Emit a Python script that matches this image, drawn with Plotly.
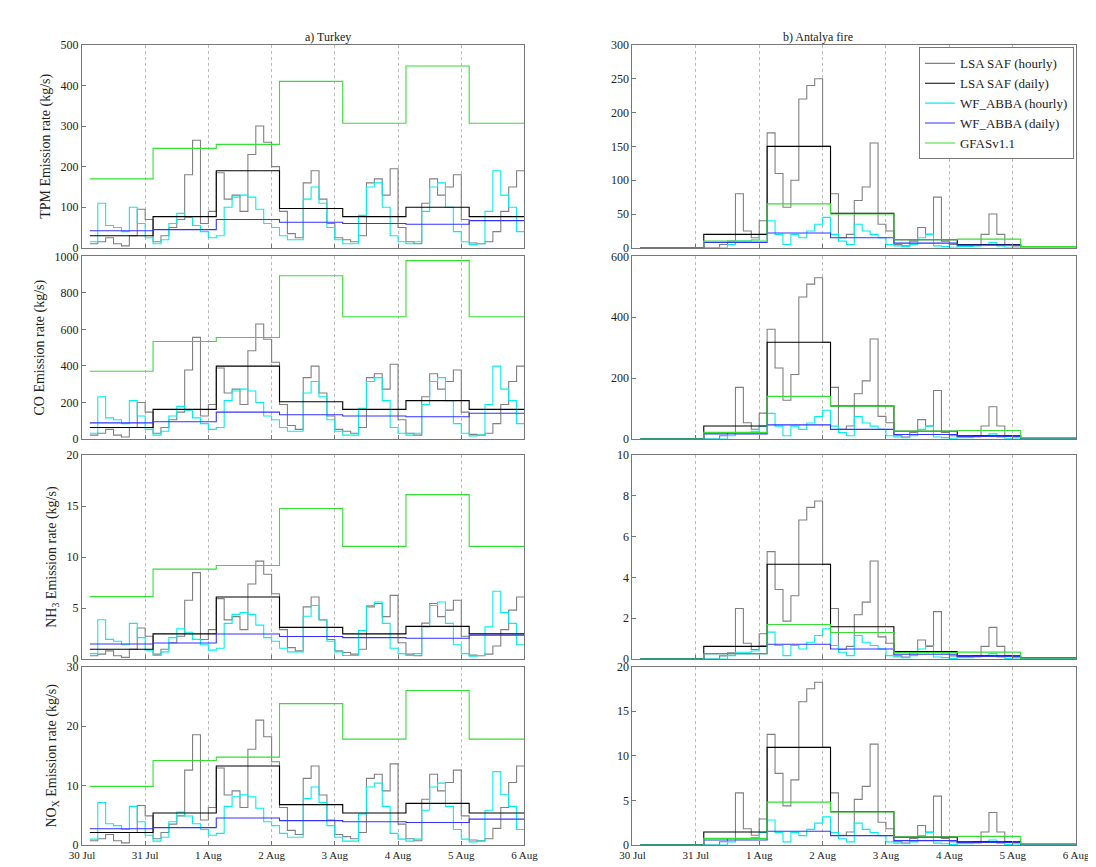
import numpy as np
import plotly.graph_objects as go

# time in days since 30 Jul 00:00; data start ~03 UTC offset
t0 = 0.125
tick_labels = ["30 Jul", "31 Jul", "1 Aug", "2 Aug", "3 Aug", "4 Aug", "5 Aug", "6 Aug"]

# ---- Turkey, TPM (kg/s) ----
tur_lsa_hourly = [10, 15, 25, 10, 5, 30, 95, 70,
                  15, 30, 50, 70, 180, 265, 60, 90,
                  185, 120, 130, 90, 230, 300, 260, 200,
                  90, 35, 25, 160, 190, 120, 60, 25,
                  20, 15, 30, 160, 170, 130, 195, 50,
                  15, 10, 110, 170, 130, 150, 180, 70,
                  12, 10, 15, 40, 90, 150, 190, 110]
tur_wf_hourly = [15, 110, 55, 50, 40, 100, 60, 25,
                 10, 20, 60, 85, 75, 55, 40, 25,
                 30, 100, 125, 130, 125, 95, 60, 50,
                 30, 20, 20, 120, 150, 110, 50, 20,
                 10, 10, 80, 150, 160, 100, 30, 15,
                 10, 15, 90, 150, 160, 100, 40, 15,
                 8, 10, 90, 190, 130, 100, 40, 15]
tur_lsa_daily = [30, 77, 190, 97, 77, 100, 77]
tur_wf_daily = [42, 45, 70, 63, 60, 58, 67]
tur_gfas = [170, 245, 255, 410, 307, 448, 307]

# ---- Antalya fire, TPM (kg/s) ----
ant_lsa_hourly = [0, 0, 0, 0, 0, 0, 0, 0,
                  0, 0, 5, 10, 80, 25, 15, 40,
                  170, 110, 60, 100, 220, 240, 250, 150,
                  80, 15, 20, 70, 90, 155, 35, 25,
                  5, 3, 10, 30, 20, 75, 10, 5,
                  3, 3, 5, 20, 50, 20, 5, 3,
                  0, 0, 0, 0, 0, 0, 0, 0]
ant_wf_hourly = [0, 0, 0, 0, 0, 0, 0, 0,
                 0, 0, 0, 5, 10, 10, 12, 20,
                 40, 20, 5, 20, 15, 25, 35, 45,
                 20, 10, 5, 35, 25, 20, 15, 5,
                 3, 2, 5, 15, 20, 3, 2, 1,
                 2, 2, 3, 5, 8, 3, 1, 0,
                 0, 0, 0, 0, 0, 0, 0, 0]
ant_lsa_daily = [0, 20, 150, 51, 12, 5, 2]
ant_wf_daily = [0, 8, 22, 15, 7, 4, 2]
ant_gfas = [0, 10, 65, 50, 12, 13, 2]

# species factors relative to TPM: [LSA SAF, WF_ABBA, GFAS]
tur_factors = {"TPM": [1, 1, 1], "CO": [2.1, 2.1, 2.18],
               "NH3": [0.032, 0.035, 0.036], "NOx": [0.07, 0.065, 0.058]}
ant_factors = {"TPM": [1, 1, 1], "CO": [2.12, 2.1, 2.15],
               "NH3": [0.031, 0.033, 0.026], "NOx": [0.073, 0.07, 0.074]}

species = ["TPM", "CO", "NH3", "NOx"]
ytitles = ["TPM Emission rate (kg/s)", "CO Emission rate (kg/s)",
           "NH<sub>3</sub> Emission rate (kg/s)", "NO<sub>X</sub> Emission rate (kg/s)"]
tur_ranges = [(500, 100), (1000, 200), (20, 5), (30, 10)]
ant_ranges = [(300, 50), (600, 200), (10, 2), (20, 5)]

x_hourly = [t0 + i / 8 for i in range(56)] + [t0 + 7]
x_daily = [t0 + i for i in range(7)] + [7]

def ext(v):
    return list(v) + [v[-1]]

colors = {"lsa_h": "#808080", "lsa_d": "#000000", "wf_h": "#00f0f0",
          "wf_d": "#3333ff", "gfas": "#33e033"}
names = {"lsa_h": "LSA SAF (hourly)", "lsa_d": "LSA SAF (daily)", "wf_h": "WF_ABBA (hourly)",
         "wf_d": "WF_ABBA (daily)", "gfas": "GFASv1.1"}

fig = go.Figure()
xdom = [(0.057, 0.471), (0.572, 0.987)]
ydom = [(0.727, 0.965), (0.503, 0.717), (0.245, 0.484), (0.027, 0.236)]

panels = [(tur_lsa_hourly, tur_lsa_daily, tur_wf_hourly, tur_wf_daily, tur_gfas, tur_factors, tur_ranges),
          (ant_lsa_hourly, ant_lsa_daily, ant_wf_hourly, ant_wf_daily, ant_gfas, ant_factors, ant_ranges)]

n = 0
for c, (lh, ld, wh, wd, gf, fac, rng) in enumerate(panels):
    for r, sp in enumerate(species):
        n += 1
        xa = "x" if n == 1 else f"x{n}"
        ya = "y" if n == 1 else f"y{n}"
        f = fac[sp]
        series = [("lsa_h", x_hourly, [v * f[0] for v in lh]),
                  ("wf_h", x_hourly, [v * f[1] for v in wh]),
                  ("lsa_d", x_daily, [v * f[0] for v in ld]),
                  ("wf_d", x_daily, [v * f[1] for v in wd]),
                  ("gfas", x_daily, [v * f[2] for v in gf])]
        for key, xs, ys in series:
            fig.add_trace(go.Scatter(
                x=xs, y=ext(ys), mode="lines", line=dict(color=colors[key], width=1.1, shape="hv"),
                name=names[key], legendrank=list(names).index(key),
                showlegend=(n == 5), xaxis=xa, yaxis=ya))
        ymax, dt = rng[r]
        fig.layout[f"xaxis{'' if n == 1 else n}"] = dict(
            domain=xdom[c], anchor=ya, range=[0, 7], tickvals=list(range(8)),
            ticktext=tick_labels if r == 3 else [""] * 8,
            showgrid=True, gridcolor="#bbbbbb", griddash="dot", gridwidth=1,
            showline=True, linecolor="#777777", mirror=True, ticks="inside", ticklen=4,
            tickcolor="#777777", zeroline=False, tickfont=dict(size=11))
        fig.layout[f"yaxis{'' if n == 1 else n}"] = dict(
            domain=ydom[r], anchor=xa, range=[0, ymax], tickvals=list(np.arange(0, ymax + dt / 2, dt)),
            showgrid=False, showline=True, linecolor="#777777", mirror=True, ticks="inside",
            ticklen=4, tickcolor="#777777", zeroline=False,
            title=dict(text=ytitles[r] if c == 0 else "", standoff=6))

fig.add_annotation(text="a) Turkey", x=0.264, y=0.985, xref="paper", yref="paper", showarrow=False,
                   font=dict(size=12))
fig.add_annotation(text="b) Antalya fire", x=0.78, y=0.985, xref="paper", yref="paper", showarrow=False,
                   font=dict(size=12))

fig.update_layout(
    width=1096, height=867, margin=dict(l=0, r=0, t=0, b=0),
    plot_bgcolor="white", paper_bgcolor="white",
    font=dict(family="Liberation Serif", size=12, color="#222222"),
    legend=dict(x=0.985, y=0.962, xanchor="right", yanchor="top", bgcolor="white",
                bordercolor="#777777", borderwidth=1, font=dict(size=13), tracegroupgap=0),
)

fig.write_html("out.html")
